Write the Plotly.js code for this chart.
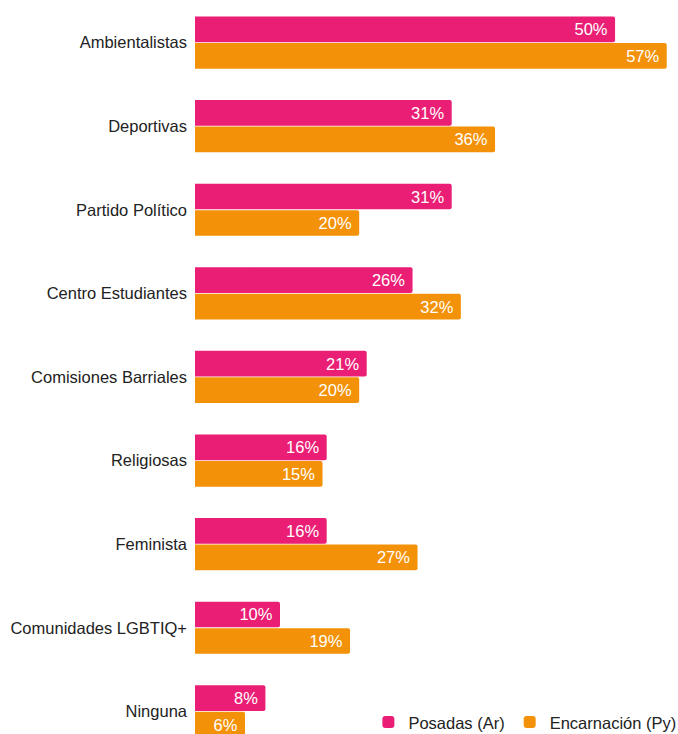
<!DOCTYPE html>
<html>
<head>
<meta charset="utf-8">
<script src="https://cdn.plot.ly/plotly-3.0.1.min.js"></script>
<style>html,body{margin:0;padding:0;background:#fff;}#chart{width:678px;height:734px;}</style>
</head>
<body>
<div id="chart"></div>
<script>
const categories = ["Ambientalistas","Deportivas","Partido Político","Centro Estudiantes","Comisiones Barriales","Religiosas","Feminista","Comunidades LGBTIQ+","Ninguna"];
const posadas = [50.4,30.8,30.8,26.1,20.6,15.8,15.8,10.2,8.45];
const encarnacion = [56.6,36.0,19.7,31.9,19.7,15.3,26.7,18.6,6.0];
const seriesNames = ["Posadas (Ar)","Encarnación (Py)"];

const FONT = "'Liberation Sans', Arial, Helvetica, sans-serif";
const common = {
  type: "bar",
  orientation: "h",
  y: categories,
  textposition: "inside",
  insidetextanchor: "end",
  texttemplate: "%{x:.0f}%\u00a0",
  textfont: {family: FONT, size: 16.5, color: "#ffffff"},
  hoverinfo: "skip",
  cliponaxis: true
};
const data = [
  Object.assign({}, common, {name: seriesNames[0], x: posadas, marker: {color: "#E91E74", cornerradius: 2}}),
  Object.assign({}, common, {name: seriesNames[1], x: encarnacion, marker: {color: "#F39208", cornerradius: 2}})
];
const layout = {
  width: 678, height: 734,
  margin: {l: 195, r: 0, t: 0, b: 0, pad: 0, autoexpand: false},
  paper_bgcolor: "#ffffff", plot_bgcolor: "#ffffff",
  font: {family: FONT, size: 16.5, color: "#222222"},
  barmode: "group",
  bargap: 0.366,
  bargroupgap: 0.03,
  showlegend: true,
  legend: {orientation: "h", x: 1.007, xanchor: "right", y: -0.008, yanchor: "bottom", font: {family: FONT, size: 16.5, color: "#222222"}, bgcolor: "rgba(0,0,0,0)", traceorder: "normal"},
  xaxis: {range: [0, 57.95], visible: false, showgrid: false, zeroline: false, fixedrange: true},
  yaxis: {type: "category", range: [8.271, -0.509], showgrid: false, zeroline: false, showline: false, ticks: "", ticklabelstandoff: 7, tickfont: {family: FONT, size: 16.5, color: "#222222"}, fixedrange: true}
};
Plotly.newPlot("chart", data, layout, {displayModeBar: false, staticPlot: true});
</script>
</body>
</html>
